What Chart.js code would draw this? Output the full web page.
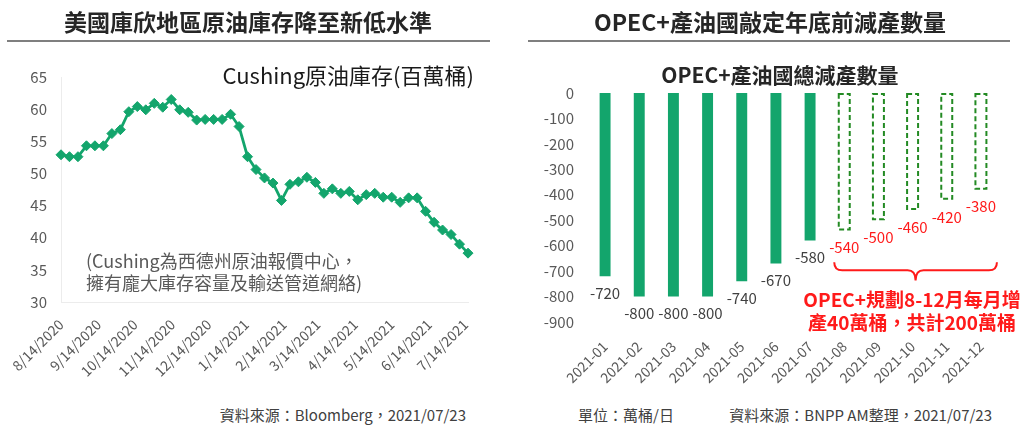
<!DOCTYPE html>
<html><head><meta charset="utf-8">
<script src="https://cdn.jsdelivr.net/npm/chart.js@4.4.1/dist/chart.umd.min.js"></script>
<style>
html,body{margin:0;padding:0;background:#fff;width:1024px;height:427px;overflow:hidden;font-family:"Noto Sans CJK TC","Noto Sans",sans-serif;}
.t{position:absolute;white-space:nowrap;line-height:1;z-index:2;}
.c{transform:translate(-50%,-50%);}
.r{transform:translate(-100%,-50%);}
.l{transform:translate(0,-50%);}
.rule{position:absolute;height:2px;background:#7f7f7f;}
canvas{position:absolute;top:0;}
</style></head><body>

<div class="t c" style="left:248px;top:21px;font-size:23px;font-weight:700;color:#262626;">美國庫欣地區原油庫存降至新低水準</div>
<div class="rule" style="left:7px;top:40px;width:483px;"></div>
<div class="t c" style="left:770px;top:21px;font-size:23px;font-weight:700;color:#262626;">OPEC+產油國敲定年底前減產數量</div>
<div class="rule" style="left:528px;top:40px;width:482px;"></div>

<div class="t r" style="left:474px;top:74px;font-size:22px;color:#1a1a1a;">Cushing原油庫存(百萬桶)</div>
<div class="t l" style="left:86px;top:260px;font-size:18px;color:#595959;">(Cushing為西德州原油報價中心，</div>
<div class="t l" style="left:86px;top:282px;font-size:18px;color:#595959;">擁有龐大庫存容量及輸送管道網絡)</div>
<div class="t r" style="left:466px;top:414px;font-size:15px;color:#404040;">資料來源：Bloomberg，2021/07/23</div>

<div class="t c" style="left:780px;top:74px;font-size:21px;font-weight:700;color:#262626;">OPEC+產油國總減產數量</div>
<div class="t c" style="left:912px;top:298px;font-size:19px;font-weight:700;color:#ff1a1a;">OPEC+規劃8-12月每月增</div>
<div class="t c" style="left:912px;top:321px;font-size:19px;font-weight:700;color:#ff1a1a;">產40萬桶，共計200萬桶</div>
<div class="t l" style="left:578px;top:414px;font-size:15px;color:#404040;">單位：萬桶/日</div>
<div class="t r" style="left:992px;top:414px;font-size:15px;color:#404040;">資料來源：BNPP AM整理，2021/07/23</div>

<canvas id="c1" width="500" height="400" style="left:0;width:500px;height:400px;"></canvas>
<canvas id="c2" width="504" height="400" style="left:520px;width:504px;height:400px;"></canvas>

<script>
// ---------- Left chart data: Cushing crude inventories (million barrels), weekly ----------
const cushingDates = [
 '2020-08-14','2020-08-21','2020-08-28','2020-09-04','2020-09-11','2020-09-18','2020-09-25',
 '2020-10-02','2020-10-09','2020-10-16','2020-10-23','2020-10-30','2020-11-06','2020-11-13',
 '2020-11-20','2020-11-27','2020-12-04','2020-12-11','2020-12-18','2020-12-25','2021-01-01',
 '2021-01-08','2021-01-15','2021-01-22','2021-01-29','2021-02-05','2021-02-12','2021-02-19',
 '2021-02-26','2021-03-05','2021-03-12','2021-03-19','2021-03-26','2021-04-02','2021-04-09',
 '2021-04-16','2021-04-23','2021-04-30','2021-05-07','2021-05-14','2021-05-21','2021-05-28',
 '2021-06-04','2021-06-11','2021-06-18','2021-06-25','2021-07-02','2021-07-09','2021-07-16'
];
const cushingValues = [
 52.9,52.6,52.6,54.3,54.3,54.3,56.2,56.8,59.6,60.4,59.9,60.9,60.3,61.5,59.9,59.5,58.3,58.4,58.4,58.4,
 59.2,57.3,52.6,50.6,49.3,48.5,45.8,48.3,48.7,49.4,48.6,46.9,47.6,46.9,47.2,45.9,46.7,46.9,46.3,46.3,
 45.5,46.2,46.2,44.1,42.4,41.2,40.5,39.0,37.6
];
const cushingTickLabels = ['8/14/2020','9/14/2020','10/14/2020','11/14/2020','12/14/2020','1/14/2021',
 '2/14/2021','3/14/2021','4/14/2021','5/14/2021','6/14/2021','7/14/2021'];
const cushingYTicks = [30,35,40,45,50,55,60,65];

// ---------- Right chart data: OPEC+ total cuts (10k barrels/day) ----------
const opecMonths = ['2021-01','2021-02','2021-03','2021-04','2021-05','2021-06','2021-07',
 '2021-08','2021-09','2021-10','2021-11','2021-12'];
const opecActual = [-720,-800,-800,-800,-740,-670,-580];
const opecPlanned = [-540,-500,-460,-420,-380];
const opecYTicks = [0,-100,-200,-300,-400,-500,-600,-700,-800,-900];

const FONT = '"Noto Sans CJK TC","Noto Sans",sans-serif';
const GREEN = '#13a56c';
const DASH_GREEN = '#238a23';
const RED = '#ff1a1a';

function dayNum(iso){ return Date.parse(iso + 'T00:00:00Z') / 86400000; }
const day0 = dayNum(cushingDates[0]);
const mdyToIso = s => { const [m,d,y] = s.split('/'); return y + '-' + m.padStart(2,'0') + '-' + d.padStart(2,'0'); };
const tickDays = cushingTickLabels.map(s => dayNum(mdyToIso(s)) - day0);
const linePoints = cushingDates.map((d,i) => ({x: dayNum(d) - day0, y: cushingValues[i]}));

new Chart(document.getElementById('c1'), {
  type: 'line',
  data: { datasets: [{
    data: linePoints, borderColor: GREEN, backgroundColor: GREEN, borderWidth: 2.8,
    pointStyle: 'rectRot', pointRadius: 5, pointBackgroundColor: GREEN, pointBorderColor: GREEN,
    pointBorderWidth: 1, tension: 0, clip: false
  }]},
  options: {
    responsive: false, animation: false, events: [],
    layout: { padding: { left: 0, right: 32, top: 77, bottom: 0 } },
    plugins: { legend: { display: false }, tooltip: { enabled: false } },
    scales: {
      x: {
        type: 'linear', min: 0, max: dayNum(cushingDates[cushingDates.length-1]) - day0,
        grid: { display: false, drawTicks: false },
        border: { display: true, color: '#ececec' },
        afterBuildTicks: s => { s.ticks = tickDays.map(v => ({ value: v })); },
        afterFit: s => { s.height = 98; },
        ticks: {
          autoSkip: false, minRotation: 45, maxRotation: 45, padding: 14,
          color: '#595959', font: { family: FONT, size: 14 },
          callback: (v, i) => cushingTickLabels[i]
        }
      },
      y: {
        min: cushingYTicks[0], max: cushingYTicks[cushingYTicks.length-1],
        grid: { display: false, drawTicks: false },
        border: { display: true, color: '#ececec' },
        afterBuildTicks: s => { s.ticks = cushingYTicks.map(v => ({ value: v })); },
        afterFit: s => { s.width = 61; },
        ticks: { padding: 14, color: '#595959', font: { family: FONT, size: 15 } }
      }
    }
  }
});

// ---------- Right chart ----------
const actualData = opecMonths.map((m,i) => i < opecActual.length ? opecActual[i] : null);
const plannedData = opecMonths.map((m,i) => i >= opecActual.length ? opecPlanned[i - opecActual.length] : null);

const barDecor = {
  id: 'barDecor',
  afterDatasetsDraw(chart) {
    const ctx = chart.ctx;
    const metaA = chart.getDatasetMeta(0), metaP = chart.getDatasetMeta(1);
    ctx.save();
    // dashed outlines for planned bars
    ctx.strokeStyle = DASH_GREEN; ctx.lineWidth = 2; ctx.setLineDash([5,3]);
    metaP.data.forEach((el, i) => {
      if (plannedData[i] == null) return;
      const p = el.getProps(['x','y','base','width'], true);
      ctx.strokeRect(p.x - p.width/2 + 1, p.base + 1, p.width - 2, p.y - p.base - 2);
    });
    ctx.setLineDash([]);
    // value labels
    ctx.textAlign = 'center'; ctx.textBaseline = 'middle';
    ctx.font = '15px ' + FONT;
    metaA.data.forEach((el, i) => {
      if (actualData[i] == null) return;
      ctx.fillStyle = '#404040';
      ctx.fillText(String(actualData[i]), el.x, el.y + 17);
    });
    metaP.data.forEach((el, i) => {
      if (plannedData[i] == null) return;
      ctx.fillStyle = RED;
      ctx.fillText(String(plannedData[i]), el.x, el.y + 17);
    });
    // curly brace under the planned months
    const xs = chart.scales.x, ys = chart.scales.y;
    const first = opecActual.length, last = opecMonths.length - 1;
    const x0 = xs.getPixelForValue(first) - 10, x1 = xs.getPixelForValue(last) + 16;
    const xc = (x0 + x1) / 2;
    const yt = ys.getPixelForValue(-665), yb = ys.getPixelForValue(-737);
    const ym = (yt + yb) / 2 - 1, r = 8;
    ctx.strokeStyle = RED; ctx.lineWidth = 2;
    ctx.beginPath();
    ctx.moveTo(x0, yt);
    ctx.quadraticCurveTo(x0, ym, x0 + r, ym);
    ctx.lineTo(xc - r, ym);
    ctx.quadraticCurveTo(xc, ym, xc, yb);
    ctx.quadraticCurveTo(xc, ym, xc + r, ym);
    ctx.lineTo(x1 - r, ym);
    ctx.quadraticCurveTo(x1, ym, x1, yt);
    ctx.stroke();
    ctx.restore();
  }
};

new Chart(document.getElementById('c2'), {
  type: 'bar',
  data: {
    labels: opecMonths,
    datasets: [
      { data: actualData, backgroundColor: GREEN, borderWidth: 0, grouped: false,
        barPercentage: 0.32, categoryPercentage: 1.0 },
      { data: plannedData, backgroundColor: 'rgba(0,0,0,0)', borderWidth: 0, grouped: false,
        barPercentage: 0.38, categoryPercentage: 1.0 }
    ]
  },
  options: {
    responsive: false, animation: false, events: [],
    layout: { padding: { left: 0, right: 26, top: 93, bottom: 0 } },
    plugins: { legend: { display: false }, tooltip: { enabled: false } },
    scales: {
      x: {
        grid: { display: false, drawTicks: false }, border: { display: false },
        afterFit: s => { s.height = 78; },
        ticks: { autoSkip: false, minRotation: 45, maxRotation: 45, padding: 16,
          color: '#595959', font: { family: FONT, size: 14 } }
      },
      y: {
        min: -900, max: 0,
        grid: { display: false, drawTicks: false }, border: { display: false },
        afterBuildTicks: s => { s.ticks = opecYTicks.map(v => ({ value: v })); },
        afterFit: s => { s.width = 68; },
        ticks: { padding: 14, color: '#595959', font: { family: FONT, size: 15 } }
      }
    }
  },
  plugins: [barDecor]
});
</script>
</body></html>
